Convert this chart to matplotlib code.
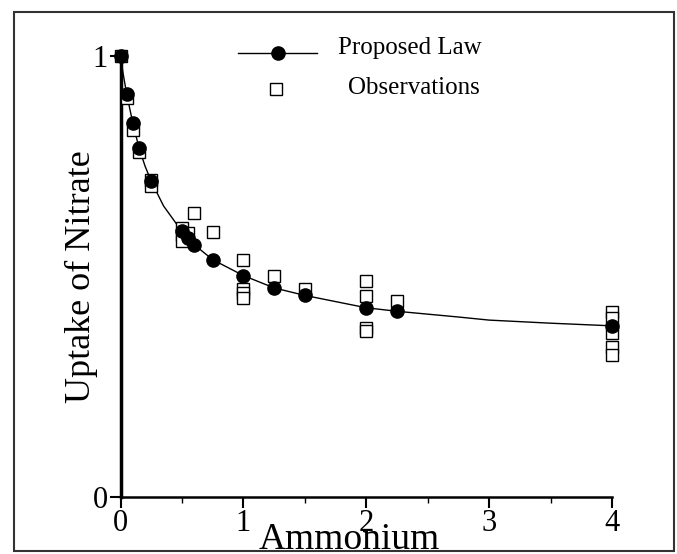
import matplotlib
matplotlib.use("Agg")
import matplotlib.pyplot as plt
from matplotlib.patches import Rectangle
from matplotlib.lines import Line2D

plt.rcParams['font.family'] = ['Liberation Serif', 'DejaVu Serif']

# model points (filled circles)
law_x = [0, 0.05, 0.1, 0.15, 0.25, 0.5, 0.55, 0.6, 0.75, 1, 1.25, 1.5, 2, 2.25, 4]
law_y = [1.0, 0.914, 0.848, 0.792, 0.716, 0.602, 0.588, 0.572, 0.538, 0.502,
         0.474, 0.457, 0.429, 0.421, 0.388]

# the drawn law curve
curve_x = [0, 0.02, 0.05, 0.1, 0.15, 0.2, 0.25, 0.35, 0.5, 0.55, 0.6, 0.75, 1,
           1.25, 1.5, 2, 2.25, 2.75, 3, 3.5, 4]
curve_y = [1.0, 0.962, 0.914, 0.848, 0.792, 0.750, 0.716, 0.660, 0.602, 0.588,
           0.572, 0.538, 0.502, 0.474, 0.457, 0.429, 0.421, 0.408, 0.401, 0.394, 0.388]

# measured uptake
obs_x = [0, 0.05, 0.1, 0.15, 0.25, 0.25, 0.5, 0.5, 0.5, 0.55, 0.6, 0.75,
         1, 1, 1, 1, 1.25, 1.5, 2, 2, 2, 2, 2.25, 4, 4, 4, 4, 4]
obs_y = [1.0, 0.904, 0.833, 0.783, 0.719, 0.704, 0.610, 0.595, 0.580, 0.599, 0.645, 0.601,
         0.537, 0.472, 0.462, 0.452, 0.501, 0.472, 0.489, 0.455, 0.382, 0.376, 0.444,
         0.420, 0.405, 0.372, 0.340, 0.322]

fig = plt.figure(figsize=(6.77, 5.54), dpi=100)
ax = fig.add_axes([0.178, 0.103, 0.726, 0.796])

ax.plot(curve_x, curve_y, color='black', lw=1.0, zorder=2)
ax.plot(obs_x, obs_y, ls='none', marker='s', ms=8.5, mfc='white', mec='black',
        mew=1.0, zorder=3, clip_on=False)
ax.plot(law_x, law_y, ls='none', marker='o', ms=9.5, color='black', zorder=4,
        clip_on=False)

ax.set_xlim(0, 4)
ax.set_ylim(0, 1)
for s in ['top', 'right']:
    ax.spines[s].set_visible(False)
ax.spines['left'].set_linewidth(2.5)
ax.spines['bottom'].set_linewidth(1.8)

ax.set_xticks([0, 1, 2, 3, 4])
ax.set_xticks([0.5, 1.5, 2.5, 3.5], minor=True)
ax.set_yticks([0, 1])
ax.tick_params(axis='x', which='major', direction='out', length=8, width=1.5,
               labelsize=22, pad=1)
ax.tick_params(axis='x', which='minor', direction='out', length=4, width=1)
ax.tick_params(axis='y', which='major', direction='out', length=8, width=1.5,
               labelsize=22, pad=1)

# axis titles placed by their baselines
ax.set_xlabel('Ammonium', fontsize=27)
ax.xaxis.label.set_va('baseline')
ax.xaxis.set_label_coords(0.465, -0.117)
ax.set_ylabel('Uptake of Nitrate', fontsize=26)
ax.yaxis.label.set_va('baseline')
ax.yaxis.set_label_coords(-0.062, 0.5)

# legend drawn by hand in figure pixels
fig.add_artist(Line2D([238, 317], [554 - 53, 554 - 53], transform=None,
                      color='black', lw=1.0))
fig.add_artist(Line2D([278], [554 - 53], transform=None, marker='o', ms=9.5,
                      color='black'))
fig.text(338 / 677, 1 - 48 / 554, 'Proposed Law', fontsize=18, va='center', ha='left')
fig.add_artist(Line2D([276], [554 - 89], transform=None, marker='s', ms=8.5,
                      mfc='white', mec='black', mew=1.0))
fig.text(348 / 677, 1 - 88 / 554, 'Observations', fontsize=18, va='center', ha='left')

# frame round the whole figure
fig.add_artist(Rectangle((14 / 677, 3 / 554), 660 / 677, 539 / 554,
                         transform=fig.transFigure, fill=False,
                         edgecolor='#333333', lw=1.5))

fig.savefig('out.png', dpi=100)
